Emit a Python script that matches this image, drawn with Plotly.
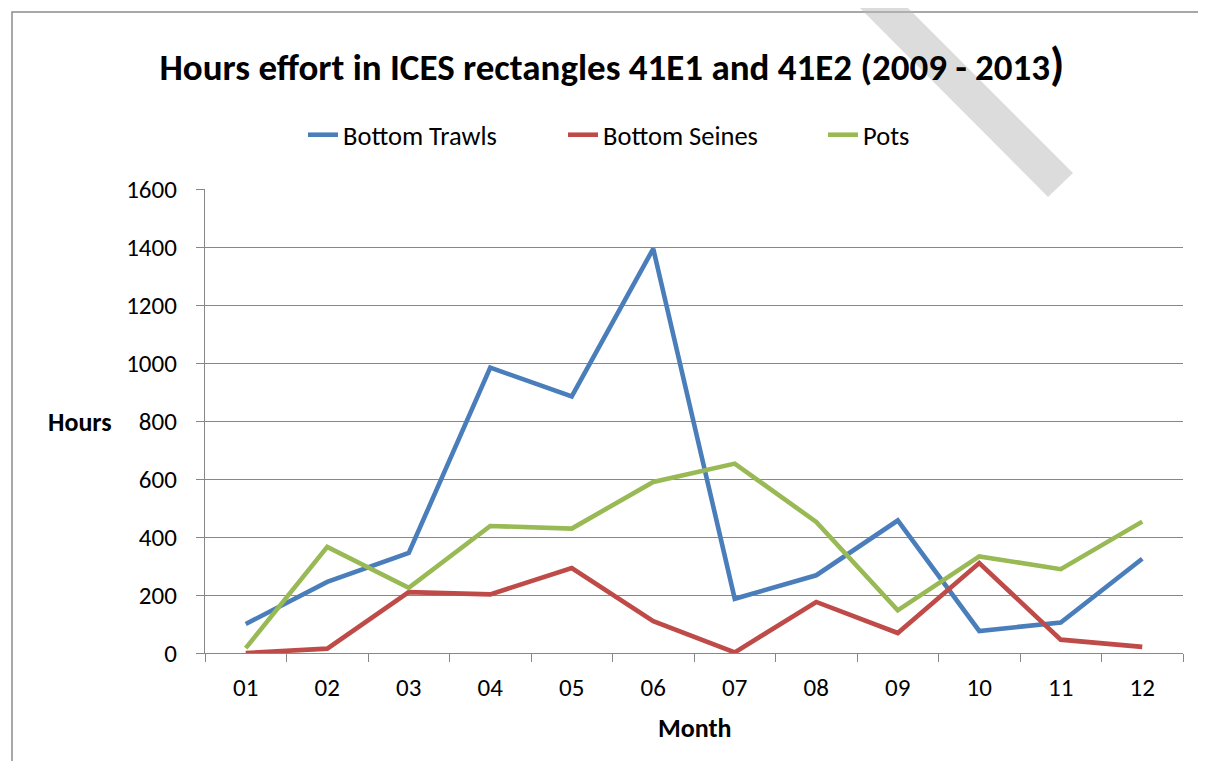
import plotly.graph_objects as go

months = ["01", "02", "03", "04", "05", "06", "07", "08", "09", "10", "11", "12"]
bottom_trawls = [100, 245, 345, 984, 885, 1394, 187, 268, 457, 76, 105, 325]
bottom_seines = [0, 15, 210, 202, 293, 110, 2, 176, 69, 310, 46, 21]
pots = [17, 366, 225, 438, 429, 590, 653, 452, 147, 333, 289, 453]
y_ticks = [0, 200, 400, 600, 800, 1000, 1200, 1400, 1600]

OFF = 8  # page body margin
W, H = 1206 - 2 * OFF, 769 - 2 * OFF
# plot area in page pixels: x 205..1183, y 189..653
L = 205 - OFF
T = 189 - OFF
R = W - (1183 - OFF)
B = H - (653 - OFF)
PW, PH = W - L - R, H - T - B

def px(x):
    return (x - OFF - L) / PW

def py(y):
    return (H - B - (y - OFF)) / PH

FONT = "Carlito, Lato, sans-serif"
GRID = "#878787"

fig = go.Figure()
series = [
    ("Bottom Trawls", bottom_trawls, "#4A7EBB"),
    ("Bottom Seines", bottom_seines, "#BE4B48"),
    ("Pots", pots, "#98B954"),
]
for name, vals, col in series:
    fig.add_trace(go.Scatter(x=months, y=vals, name=name, mode="lines",
                             line=dict(color=col, width=4.6)))

fig.update_layout(
    width=W, height=H,
    margin=dict(l=L, r=R, t=T, b=B),
    paper_bgcolor="white", plot_bgcolor="white",
    font=dict(family=FONT, size=25, color="black"),
    title=dict(text="<b>Hours effort in ICES rectangles 41E1 and 41E2 (2009 - 2013"
                    "<span style='font-size:46px'>)</span></b>",
               x=(612 - OFF) / W, xanchor="center", y=1 - (67 - OFF) / H, yanchor="middle",
               font=dict(size=37, family=FONT, color="black")),
    legend=dict(orientation="h", x=px(303), xanchor="left", y=py(135), yanchor="middle",
                font=dict(size=26.5), bgcolor="rgba(0,0,0,0)", entrywidth=215,
                tracegroupgap=0),
    showlegend=True,
)
fig.update_xaxes(type="category", showline=True, linecolor=GRID, linewidth=1.3,
                 ticks="outside", tickson="boundaries", ticklen=8, tickcolor=GRID,
                 showgrid=False, ticklabelstandoff=12, range=[-0.5, 11.5])
fig.update_yaxes(range=[0, 1600], tickvals=y_ticks, showline=True, linecolor=GRID,
                 linewidth=1.3, ticks="outside", ticklen=8, tickcolor=GRID,
                 showgrid=True, gridcolor=GRID, gridwidth=1.3, zeroline=False,
                 ticklabelstandoff=14)

fig.add_annotation(text="<b>Hours</b>", xref="paper", yref="paper", x=px(80), y=py(422),
                   xanchor="center", yanchor="middle", showarrow=False,
                   font=dict(size=26, family=FONT))
fig.add_annotation(text="<b>Month</b>", xref="paper", yref="paper", x=px(694), y=py(728),
                   xanchor="center", yanchor="middle", showarrow=False,
                   font=dict(size=26, family=FONT))

# chart border
fig.add_shape(type="rect", xref="paper", yref="paper", x0=px(12), x1=px(1300),
              y0=py(900), y1=py(12), line=dict(color="#8c8c8c", width=1.5),
              fillcolor="rgba(0,0,0,0)", layer="below")

# watermark band
pts = [(842, -10), (890, -10), (1073, 173), (1048, 197)]
path = "M " + " L ".join(f"{px(a):.4f},{py(b):.4f}" for a, b in pts) + " Z"
fig.add_shape(type="path", xref="paper", yref="paper", path=path,
              fillcolor="rgba(184,184,184,0.49)", line=dict(width=0), layer="above")

fig.write_html("out.html")
